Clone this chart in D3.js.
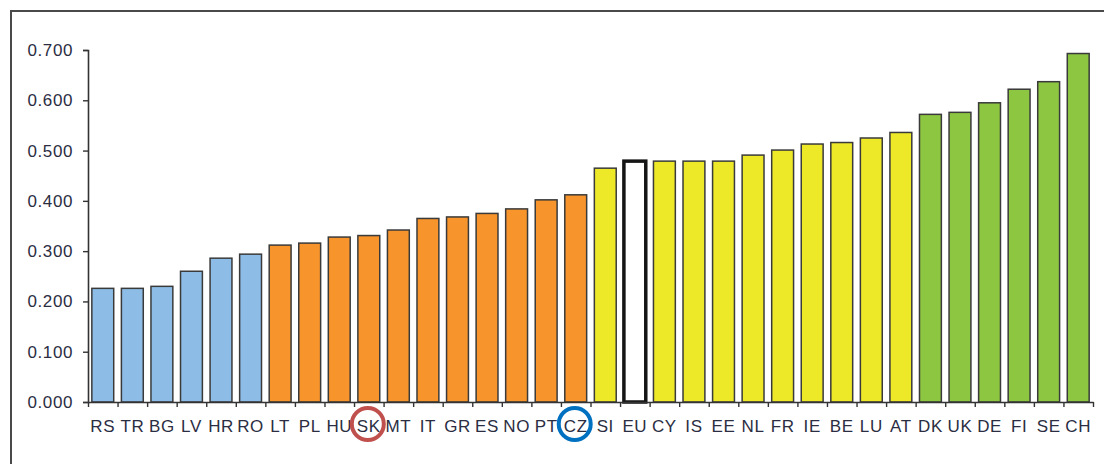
<!DOCTYPE html>
<html>
<head>
<meta charset="utf-8">
<script src="https://cdn.jsdelivr.net/npm/d3@7"></script>
<style>
  body { margin: 0; background: #fff; }
  svg { display: block; }
</style>
</head>
<body>
<svg id="chart" width="1104" height="464"></svg>
<script>
// country codes, sorted by score
const countries = ["RS", "TR", "BG", "LV", "HR", "RO", "LT", "PL", "HU", "SK", "MT", "IT", "GR", "ES", "NO", "PT", "CZ",
                   "SI", "EU", "CY", "IS", "EE", "NL", "FR", "IE", "BE", "LU", "AT", "DK", "UK", "DE", "FI", "SE", "CH"];
const scores = [0.226, 0.226, 0.230, 0.260, 0.286, 0.294, 0.312, 0.316, 0.328, 0.331, 0.342, 0.365, 0.368, 0.375, 0.384, 0.402, 0.412,
                0.465, 0.479, 0.479, 0.479, 0.479, 0.491, 0.501, 0.513, 0.516, 0.525, 0.536, 0.572, 0.576, 0.595, 0.622, 0.637, 0.693];
const groups = ["low", "low", "low", "low", "low", "low", "mid", "mid", "mid", "mid", "mid", "mid", "mid", "mid", "mid", "mid", "mid",
                "upper", "avg", "upper", "upper", "upper", "upper", "upper", "upper", "upper", "upper", "upper", "top", "top", "top", "top", "top", "top"];
const yTicks = [0, 0.1, 0.2, 0.3, 0.4, 0.5, 0.6, 0.7];
// circled labels
const highlights = [{ code: "SK", color: "#c0504d" }, { code: "CZ", color: "#0070c0" }];

const fillColor = { low: "#8dbde6", mid: "#f7942b", upper: "#ede828", avg: "#ffffff", top: "#8dc641" };

const svg = d3.select("#chart");

// outer frame (cut off at right and bottom like the source)
svg.append("rect")
    .attr("x", 11).attr("y", 11)
    .attr("width", 1110).attr("height", 470)
    .attr("fill", "none")
    .attr("stroke", "#4a4a4a")
    .attr("stroke-width", 2);

let mLeft = 88, mRight = 1093, mTop = 50, mBottom = 402;

const x = d3.scaleBand()
    .domain(countries)
    .range([mLeft, mRight])
    .paddingInner(0.26)
    .paddingOuter(0.13);

const xEdge = d3.scaleLinear()
    .domain([0, countries.length])
    .range([mLeft, mRight]);

const y = d3.scaleLinear()
    .domain([0, 0.7])
    .range([mBottom, mTop]);

// bars
svg.append("g").selectAll("rect")
    .data(countries)
    .enter().append("rect")
    .attr("x", d => x(d))
    .attr("width", x.bandwidth())
    .attr("y", (d, i) => y(scores[i]))
    .attr("height", (d, i) => y(0) - y(scores[i]))
    .attr("fill", (d, i) => fillColor[groups[i]])
    .attr("stroke", (d, i) => groups[i] == "avg" ? "#151515" : "#3a3a3a")
    .attr("stroke-width", (d, i) => groups[i] == "avg" ? 3.5 : 1.5);

// y axis
const yAxis = svg.append("g")
    .attr("transform", "translate(" + mLeft + ",0)")
    .call(d3.axisLeft(y).tickValues(yTicks).tickFormat(d3.format(".3f")).tickSize(5).tickPadding(10));

// x axis: ticks between categories
const xTickAxis = svg.append("g")
    .attr("transform", "translate(0," + mBottom + ")")
    .call(d3.axisBottom(xEdge).tickValues(d3.range(countries.length + 1)).tickFormat("").tickSize(5).tickSizeOuter(0));

// x labels
const xLabelAxis = svg.append("g")
    .attr("transform", "translate(0," + mBottom + ")")
    .call(d3.axisBottom(x).tickSize(0).tickPadding(18));
xLabelAxis.select(".domain").remove();

[yAxis, xTickAxis].forEach(g => {
    g.select(".domain").attr("stroke", "#333").attr("stroke-width", 1.6);
    g.selectAll(".tick line").attr("stroke", "#333").attr("stroke-width", 1.4);
});

svg.selectAll(".tick text")
    .attr("fill", "#2b2d42")
    .style("font-family", "Liberation Sans, Arial, sans-serif")
    .style("font-size", "17px")
    .style("letter-spacing", "0.6px");

// circles drawn round the SK and CZ labels
svg.append("g").selectAll("circle")
    .data(highlights)
    .enter().append("circle")
    .attr("cx", d => x(d.code) + x.bandwidth() / 2 - 1)
    .attr("cy", mBottom + 22)
    .attr("r", 16)
    .attr("fill", "none")
    .attr("stroke", d => d.color)
    .attr("stroke-width", 4);
</script>
</body>
</html>
